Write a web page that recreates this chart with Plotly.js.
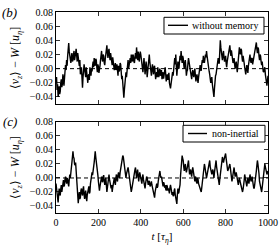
<!DOCTYPE html>
<html>
<head>
<meta charset="utf-8">
<script src="https://cdn.plot.ly/plotly-3.0.1.min.js"></script>
<style>html,body{margin:0;padding:0;background:#fff}#chart{width:280px;height:245px}</style>
</head>
<body>
<div id="chart"></div>
<script>
// time sampling step (tau_eta)
const timeStep = 2.5;

// panel (b): without memory
const withoutMemory = [
 -.020,-.012,-.030,-.022,-.040,-.030,-.025,-.036,-.032,-.020,
 -.015,-.026,-.022,-.008,-.012,-.024,-.018,-.004,.005,-.002,
 .012,.004,.018,.026,.036,.024,.020,.012,.008,.016,
 .022,.010,.012,.020,.025,.012,.015,.022,.028,.016,
 .010,.022,.018,.010,.004,.012,-.008,.000,.002,-.012,
 -.027,-.012,-.005,.006,.000,-.006,-.012,.002,-.003,-.012,
 -.020,-.010,-.008,-.016,.002,-.004,-.010,.000,-.004,.004,
 .010,.002,.015,.008,.004,.014,.012,.002,-.005,.006,
 .003,-.006,-.002,.004,.012,.018,.025,.014,.010,.020,
 .018,.008,.005,.014,.020,.026,.033,.022,.015,.024,
 .028,.018,.012,.022,.018,.010,.005,.016,.012,.004,
 -.002,.004,.008,-.002,.000,.006,-.006,-.010,.004,-.004,
 -.002,.008,.006,-.004,-.015,-.010,-.028,-.034,-.041,-.030,
 -.020,-.012,-.005,-.012,.002,.008,.012,.000,.005,.012,
 .015,.008,.020,.014,.010,.020,.018,.010,.008,.016,
 .022,.014,.030,.020,.012,.024,.020,.010,.015,.024,
 .020,.012,.008,.002,-.005,.006,.015,.004,-.008,.000,
 .010,.002,-.012,-.004,.005,.012,.020,.010,.000,-.006,
 -.010,.000,.006,-.002,-.008,.002,.004,-.006,-.015,-.008,
 -.005,-.012,.002,-.004,-.012,-.004,.000,-.010,-.008,-.002,
 -.015,-.008,-.005,-.014,-.010,-.004,.002,-.008,-.018,-.012,
 -.008,-.016,-.012,-.006,-.020,-.024,-.028,-.022,-.018,-.010,
 -.005,-.010,.002,.008,.015,.006,.020,.004,-.010,.000,
 .010,.004,.000,.010,.018,.012,.025,.016,.008,.018,
 .015,.006,.000,.008,.012,.002,-.010,-.004,-.002,.008,
 .015,.010,.005,.000,-.005,-.010,-.015,-.006,-.002,-.008,
 -.012,-.004,.000,-.010,-.018,-.012,-.008,-.014,-.020,-.012,
 -.005,.000,.005,-.002,-.003,.006,.012,.008,.018,.012,
 .008,.014,.020,.016,.025,.018,.010,.004,.000,-.004,
 -.008,-.014,-.020,-.016,-.012,-.022,-.030,-.036,-.040,-.028,
 -.015,-.010,-.008,.000,.005,.010,.015,.008,.008,.024,
 .040,.030,.020,.014,.012,.020,.025,.016,.010,.014,
 .018,.008,.002,.010,.015,.020,.025,.030,.033,.024,
 .018,.026,.022,.014,.008,.014,.015,.006,.000,.006,
 .010,.002,-.005,.004,.012,.022,.030,.024,.020,.028,
 .026,.016,.010,.018,.015,.008,.002,-.002,-.008,-.002,
 .005,.000,-.006,.004,.012,.016,.020,.012,.008,.014,
 .015,.006,.010,.016,.018,.024,.028,.032,.037,.028,
 .022,.030,.028,.018,.012,.020,.018,.010,.005,.010,
 .000,-.004,-.005,.002,.002,-.008,-.015,-.020,-.024,-.016,
 -.010
];

// panel (c): non-inertial
const nonInertial = [
 -.008,-.016,-.020,-.028,-.035,-.024,-.015,-.022,-.025,-.016,
 -.010,-.020,-.015,-.008,-.003,-.012,-.010,-.002,.002,-.004,
 -.008,.000,-.002,-.008,-.012,-.002,.005,.000,.012,.018,
 .022,.030,.038,.030,.028,.020,.018,.022,.010,.004,
 -.010,-.024,-.036,-.026,-.020,-.030,-.028,-.018,-.015,-.022,
 -.025,-.016,-.012,-.024,-.030,-.022,-.018,-.028,-.033,-.024,
 -.020,-.014,-.012,-.022,-.020,-.008,.002,-.002,.008,.004,
 .015,.012,.022,.030,.038,.030,.025,.016,.010,.004,
 -.005,-.012,-.018,-.012,-.008,-.002,.002,-.004,-.006,.002,
 .004,-.004,-.010,-.004,.000,-.010,-.020,-.014,-.008,.000,
 .005,-.002,-.005,-.010,-.015,-.010,-.020,-.014,-.008,-.002,
 .000,-.006,-.010,.000,.005,-.002,-.005,.004,.008,.002,
 .000,.008,.012,.018,.020,.026,.032,.030,.025,.016,
 .010,.004,.000,.006,.008,.012,.015,.010,.005,-.002,
 -.008,-.014,-.020,-.016,-.010,-.004,.000,.006,.008,.012,
 .015,.006,.000,.006,.012,.004,-.005,.002,.008,.004,
 .000,-.004,-.008,.000,.005,-.002,-.010,-.014,-.015,-.008,
 -.005,.002,.000,-.006,-.010,-.006,-.004,-.010,-.012,-.008,
 -.005,-.010,-.015,-.018,-.020,-.024,-.028,-.020,-.015,-.010,
 -.008,-.014,-.012,-.004,.002,.006,.010,.004,.000,.002,
 -.005,-.010,-.012,-.006,-.008,-.014,-.010,-.016,-.018,-.010,
 -.012,-.018,-.015,-.018,-.022,-.014,-.010,-.014,-.018,-.024,
 -.020,-.026,-.025,-.018,-.015,-.024,-.030,-.034,-.037,-.024,
 -.015,-.022,-.020,-.014,-.010,.004,.015,.024,.032,.028,
 .025,.016,.010,.016,.020,.012,.008,.012,.015,.020,
 .025,.014,.005,.010,.012,.006,.002,.010,.015,.010,
 .005,-.002,-.005,.002,.000,-.006,-.008,.000,-.002,-.008,
 -.010,-.012,-.015,-.018,-.020,-.014,-.008,-.002,.005,.012,
 .020,.016,.012,.004,.000,.004,.008,.014,.018,.022,
 .025,.016,.010,.006,.005,.010,.012,.006,.000,.008,
 .015,.020,.025,.016,.010,.004,-.002,-.006,-.010,-.002,
 .005,.012,.018,.024,.030,.026,.022,.026,.028,.032,
 .035,.028,.020,.014,.010,.012,.015,.018,.020,.014,
 .008,.002,-.005,.000,.005,.010,.015,.008,.002,.004,
 .008,.002,-.005,-.008,-.010,-.004,.000,-.004,-.008,-.012,
 -.015,-.018,-.020,-.016,-.012,-.004,.005,.000,-.005,-.008,
 -.012,-.006,.000,-.004,-.008,-.002,.005,.000,-.005,-.002,
 .002,-.004,-.012,-.014,-.015,-.010,-.005,.002,.010,.018,
 .025,.020,.015,.006,-.005,-.008,-.012,-.016,-.020,-.014,
 -.008,.002,.010,.016,.020,.016,.012,.008,.005,.008,
 .010
];

const times = withoutMemory.map((_, i) => i * timeStep);
const yTicks = [-0.04, -0.02, 0.00, 0.02, 0.04, 0.06, 0.08];
const xTicks = [0, 200, 400, 600, 800, 1000];
const seriesNames = ['without memory', 'non-inertial'];
const panelLabels = ['(b)', '(c)'];

const FONT = 'Liberation Serif, Times New Roman, serif';
const yTitle = '⟨<i>v<sub>z</sub></i>⟩ − <i>W</i> [<i>u<sub>η</sub></i>]';
const LW = 1.4;

const traces = [
  {x: times, y: withoutMemory, type: 'scatter', mode: 'lines', name: seriesNames[0],
   line: {color: '#000', width: LW}, xaxis: 'x', yaxis: 'y', showlegend: false},
  {x: times, y: nonInertial, type: 'scatter', mode: 'lines', name: seriesNames[1],
   line: {color: '#000', width: LW}, xaxis: 'x2', yaxis: 'y2', showlegend: false}
];

const axBase = {
  showline: true, linecolor: '#000', linewidth: 1, mirror: 'allticks',
  ticks: 'inside', ticklen: 4, tickwidth: 0.8, tickcolor: '#000',
  showgrid: false, zeroline: false, fixedrange: true,
  tickfont: {family: FONT, size: 10, color: '#000'}
};
const xAx = Object.assign({}, axBase, {range: [0, 1000], tickmode: 'array', tickvals: xTicks});
const yAx = Object.assign({}, axBase, {range: [-0.05, 0.08], tickmode: 'array', tickvals: yTicks,
  tickformat: '.2f', title: {text: yTitle, font: {family: FONT, size: 12, color: '#000'}, standoff: 7}});

// legend boxes (paper coordinates), one per panel
const legendBoxes = [
  {x0: 0.5094, x1: 0.9811, y0: 0.8905, y1: 0.9736, lx0: 0.5283, lx1: 0.6226, ly: 0.9338},
  {x0: 0.5991, x1: 0.9858, y0: 0.3532, y1: 0.4363, lx0: 0.6226, lx1: 0.7123, ly: 0.3955}
];
const shapes = [
  {type: 'line', xref: 'x', yref: 'y', x0: 0, x1: 1000, y0: 0, y1: 0,
   line: {color: '#000', width: 1, dash: '4px,3px'}},
  {type: 'line', xref: 'x2', yref: 'y2', x0: 0, x1: 1000, y0: 0, y1: 0,
   line: {color: '#000', width: 1, dash: '4px,3px'}}
];
const annotations = [];
legendBoxes.forEach((b, i) => {
  shapes.push({type: 'rect', xref: 'paper', yref: 'paper', x0: b.x0, x1: b.x1, y0: b.y0, y1: b.y1,
    fillcolor: '#fff', line: {color: '#000', width: 1}});
  shapes.push({type: 'line', xref: 'paper', yref: 'paper', x0: b.lx0, x1: b.lx1, y0: b.ly, y1: b.ly,
    line: {color: '#000', width: LW}});
  annotations.push({text: seriesNames[i], xref: 'paper', yref: 'paper', x: b.x1 - 0.02, y: b.ly,
    xanchor: 'right', yanchor: 'middle', showarrow: false, font: {family: FONT, size: 10, color: '#000'}});
});
annotations.push(
  {text: '<i>' + panelLabels[0] + '</i>', xref: 'paper', yref: 'paper', x: -0.217, y: 1.0,
   xanchor: 'center', yanchor: 'middle', showarrow: false, font: {family: FONT, size: 13, color: '#000'}},
  {text: '<i>' + panelLabels[1] + '</i>', xref: 'paper', yref: 'paper', x: -0.217, y: 0.454,
   xanchor: 'center', yanchor: 'middle', showarrow: false, font: {family: FONT, size: 13, color: '#000'}}
);

const layout = {
  width: 280, height: 245,
  margin: {l: 56, r: 12, t: 12, b: 32},
  paper_bgcolor: '#fff', plot_bgcolor: '#fff',
  showlegend: false,
  xaxis: Object.assign({}, xAx, {anchor: 'y', showticklabels: false, matches: 'x2'}),
  yaxis: Object.assign({}, yAx, {domain: [0.542, 1], anchor: 'x'}),
  xaxis2: Object.assign({}, xAx, {anchor: 'y2',
    title: {text: '<i>t</i> [<i>τ<sub>η</sub></i>]', font: {family: FONT, size: 11, color: '#000'}, standoff: 5}}),
  yaxis2: Object.assign({}, yAx, {domain: [0, 0.453], anchor: 'x2'}),
  shapes: shapes,
  annotations: annotations
};

Plotly.newPlot('chart', traces, layout, {staticPlot: true, displayModeBar: false});
</script>
</body>
</html>
